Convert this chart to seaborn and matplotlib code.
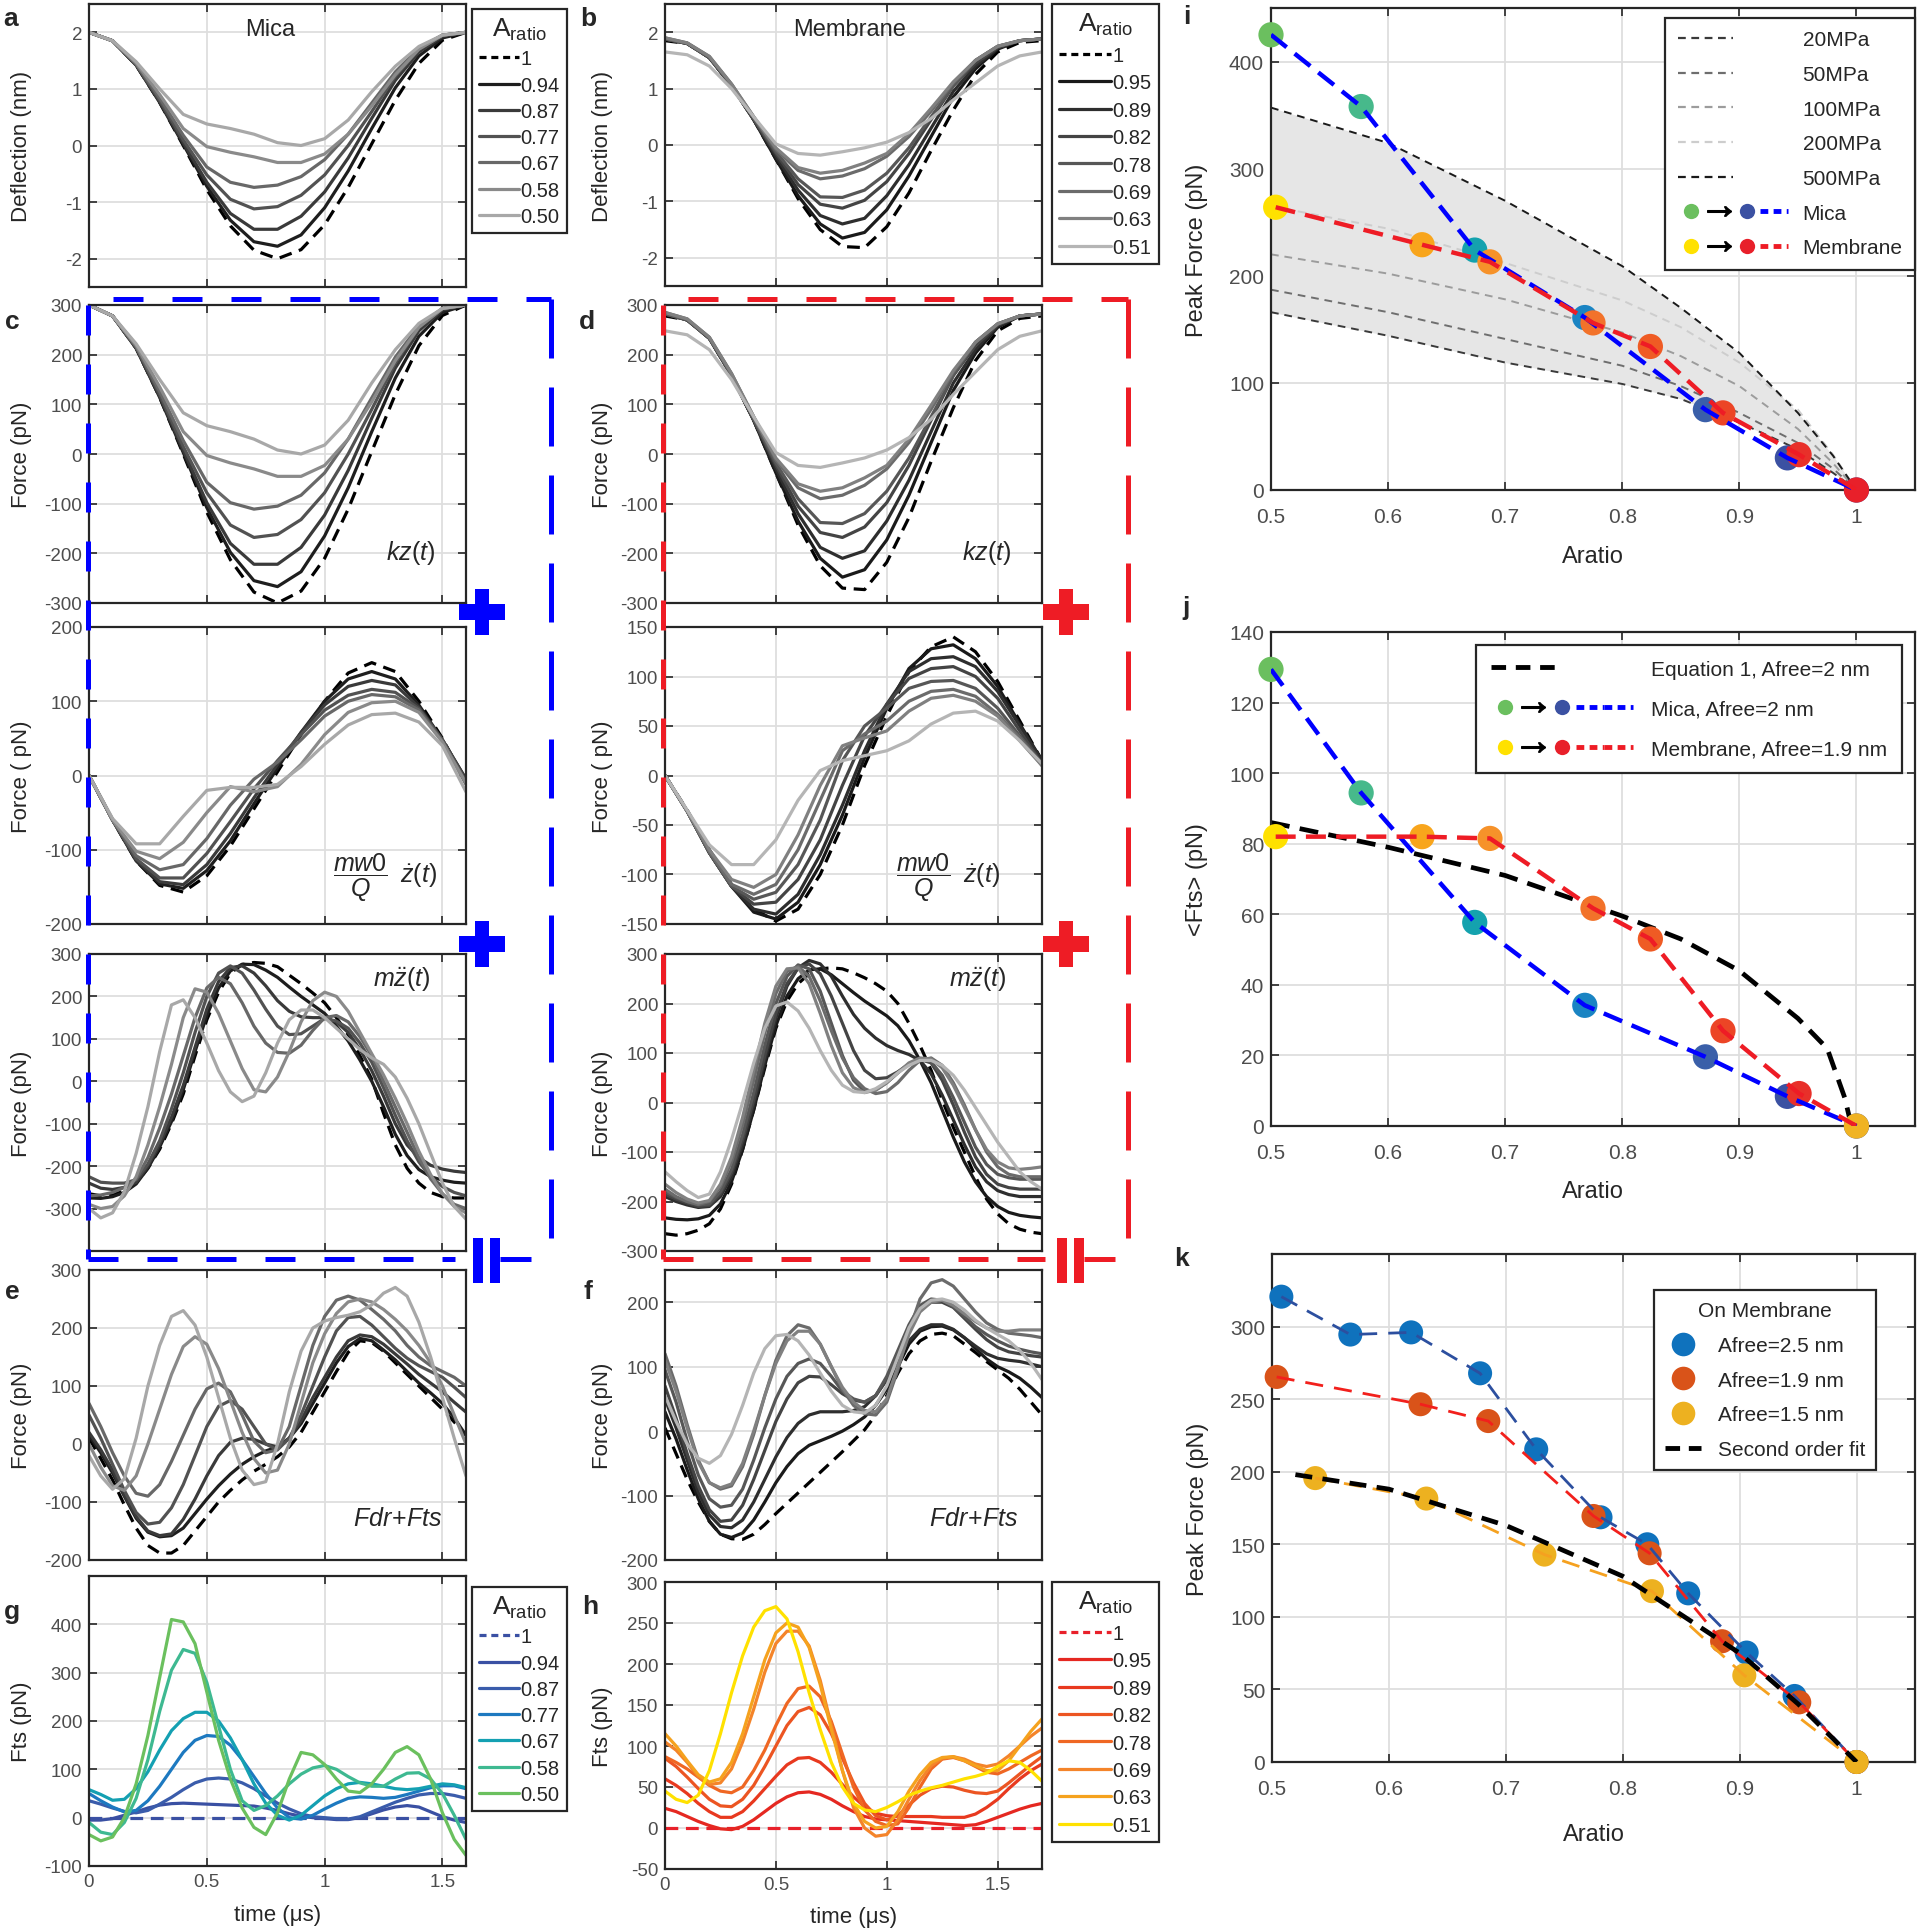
import numpy as np
import pandas as pd
import seaborn as sns
import matplotlib.pyplot as plt
from matplotlib.lines import Line2D
from matplotlib.patches import Rectangle
from matplotlib.legend_handler import HandlerTuple

# ---------------- data ----------------
t_mica = [0.0, 0.1, 0.2, 0.3, 0.4, 0.5, 0.6, 0.7, 0.8, 0.9, 1.0, 1.1, 1.2, 1.3, 1.4, 1.5, 1.6]
t_memb = [0.0, 0.1, 0.2, 0.3, 0.4, 0.5, 0.6, 0.7, 0.8, 0.9, 1.0, 1.1, 1.2, 1.3, 1.4, 1.5, 1.6, 1.7]
# finer time grid for the oscillating force traces
t_mica_f = [0.0, 0.05, 0.1, 0.15, 0.2, 0.25, 0.3, 0.35, 0.4, 0.45,
            0.5, 0.55, 0.6, 0.65, 0.7, 0.75, 0.8, 0.85, 0.9, 0.95,
            1.0, 1.05, 1.1, 1.15, 1.2, 1.25, 1.3, 1.35, 1.4, 1.45,
            1.5, 1.55, 1.6]
t_memb_f = t_mica_f + [1.65, 1.7]

lbl_mica = ['1', '0.94', '0.87', '0.77', '0.67', '0.58', '0.50']
lbl_memb = ['1', '0.95', '0.89', '0.82', '0.78', '0.69', '0.63', '0.51']

# a: deflection on mica (nm)
defl_mica = [
    [2.0, 1.85, 1.42, 0.76, 0.0, -0.78, -1.42, -1.85, -2.0, -1.84, -1.4, -0.74, 0.03, 0.8, 1.45, 1.86, 2.0],
    [2.0, 1.85, 1.42, 0.76, 0.02, -0.72, -1.32, -1.7, -1.78, -1.58, -1.1, -0.45, 0.3, 1.02, 1.58, 1.9, 2.0],
    [2.0, 1.85, 1.42, 0.77, 0.05, -0.65, -1.2, -1.48, -1.48, -1.25, -0.82, -0.22, 0.48, 1.15, 1.65, 1.93, 2.0],
    [2.0, 1.85, 1.43, 0.8, 0.1, -0.52, -0.95, -1.12, -1.08, -0.88, -0.52, 0.0, 0.6, 1.22, 1.7, 1.95, 2.0],
    [2.0, 1.85, 1.44, 0.84, 0.18, -0.38, -0.65, -0.74, -0.7, -0.55, -0.25, 0.2, 0.75, 1.3, 1.72, 1.95, 2.0],
    [2.0, 1.85, 1.46, 0.9, 0.3, -0.02, -0.12, -0.2, -0.3, -0.3, -0.15, 0.2, 0.7, 1.25, 1.7, 1.95, 2.0],
    [2.0, 1.85, 1.48, 1.0, 0.55, 0.38, 0.3, 0.2, 0.05, 0.0, 0.12, 0.45, 0.95, 1.4, 1.75, 1.95, 2.0],
]
# b: deflection on membrane (nm)
defl_memb = [
    [1.85, 1.8, 1.55, 1.05, 0.45, -0.25, -0.95, -1.5, -1.8, -1.82, -1.45, -0.85, -0.1, 0.62, 1.25, 1.65, 1.82, 1.85],
    [1.88, 1.8, 1.55, 1.05, 0.45, -0.25, -0.9, -1.4, -1.65, -1.55, -1.15, -0.55, 0.15, 0.85, 1.35, 1.7, 1.85, 1.88],
    [1.88, 1.8, 1.55, 1.05, 0.45, -0.2, -0.8, -1.25, -1.4, -1.3, -0.9, -0.35, 0.3, 0.95, 1.4, 1.72, 1.85, 1.88],
    [1.88, 1.8, 1.55, 1.05, 0.45, -0.15, -0.7, -1.05, -1.12, -0.98, -0.65, -0.15, 0.45, 1.05, 1.45, 1.73, 1.85, 1.88],
    [1.88, 1.8, 1.55, 1.07, 0.47, -0.12, -0.6, -0.92, -0.93, -0.8, -0.5, -0.05, 0.5, 1.05, 1.5, 1.75, 1.85, 1.88],
    [1.9, 1.81, 1.57, 1.08, 0.5, -0.08, -0.45, -0.6, -0.55, -0.42, -0.2, 0.15, 0.6, 1.1, 1.5, 1.75, 1.85, 1.88],
    [1.9, 1.81, 1.57, 1.08, 0.5, -0.05, -0.4, -0.5, -0.45, -0.32, -0.15, 0.2, 0.65, 1.12, 1.5, 1.75, 1.85, 1.88],
    [1.65, 1.6, 1.4, 1.0, 0.5, 0.02, -0.15, -0.18, -0.12, -0.05, 0.05, 0.22, 0.47, 0.8, 1.1, 1.4, 1.58, 1.65],
]
# c: kz(t) and mw0/Q z'(t) on mica (pN)
kz_mica = [
    [300, 278, 213, 114, 0, -117, -213, -278, -300, -276, -210, -111, 5, 120, 218, 279, 300],
    [300, 278, 213, 114, 3, -108, -198, -255, -267, -237, -165, -68, 45, 153, 237, 285, 300],
    [300, 278, 213, 116, 8, -98, -180, -222, -222, -188, -123, -33, 72, 173, 248, 290, 300],
    [300, 278, 215, 120, 15, -78, -143, -168, -162, -132, -78, 0, 90, 183, 255, 293, 300],
    [300, 278, 216, 126, 27, -57, -98, -111, -105, -83, -38, 30, 113, 195, 258, 293, 300],
    [300, 278, 219, 135, 45, -3, -18, -30, -45, -45, -23, 30, 105, 188, 255, 293, 300],
    [300, 278, 222, 150, 83, 57, 45, 30, 8, 0, 18, 68, 143, 210, 263, 293, 300],
]
damp_mica = [
    [0, -60, -115, -148, -157, -135, -95, -45, 5, 55, 100, 138, 152, 140, 100, 50, -10],
    [0, -60, -115, -146, -152, -128, -88, -38, 10, 58, 100, 130, 140, 130, 95, 48, -5],
    [0, -60, -114, -143, -147, -120, -78, -30, 15, 58, 95, 120, 128, 122, 92, 48, -5],
    [0, -60, -112, -138, -138, -105, -62, -18, 20, 55, 88, 108, 116, 112, 90, 48, -8],
    [0, -60, -108, -127, -120, -85, -40, -5, 18, 48, 80, 100, 109, 106, 88, 46, -12],
    [0, -60, -102, -112, -90, -50, -15, -22, -15, 15, 55, 85, 98, 100, 85, 45, -10],
    [0, -58, -92, -92, -55, -20, -16, -16, -12, 12, 42, 68, 82, 84, 72, 40, -22],
]
# c (third): m z''(t) on mica, 0.05 us steps
inert_mica = [
    [-265, -270, -268, -258, -240, -205, -160, -100, -30, 60, 145, 210, 255, 275, 280, 278, 270, 250, 230, 208,
     185, 150, 110, 60, 5, -75, -150, -205, -240, -262, -272, -275, -275],
    [-275, -276, -272, -262, -242, -205, -155, -95, -20, 70, 155, 220, 260, 276, 275, 262, 245, 222, 200, 180,
     160, 130, 95, 50, 0, -60, -125, -175, -208, -225, -233, -238, -240],
    [-240, -252, -255, -250, -238, -200, -148, -85, -10, 80, 170, 235, 268, 272, 255, 225, 190, 165, 152, 150,
     150, 140, 115, 75, 25, -35, -100, -150, -180, -198, -207, -212, -215],
    [-225, -238, -240, -240, -232, -195, -140, -65, 20, 115, 200, 255, 272, 255, 215, 170, 130, 110, 112, 130,
     148, 142, 125, 90, 45, -15, -80, -140, -190, -225, -248, -262, -270],
    [-270, -268, -262, -250, -230, -180, -110, -30, 60, 150, 220, 245, 230, 185, 130, 90, 68, 66, 85, 120,
     150, 155, 140, 105, 60, 0, -60, -120, -180, -230, -265, -290, -300],
    [-290, -300, -295, -270, -225, -150, -60, 40, 150, 218, 210, 160, 95, 30, -20, -25, 10, 70, 140, 190,
     210, 200, 165, 115, 65, 15, -40, -100, -165, -220, -265, -295, -310],
    [-300, -322, -310, -260, -170, -60, 70, 180, 192, 150, 90, 25, -25, -48, -35, 20, 90, 145, 168, 168,
     150, 125, 100, 75, 55, 40, 10, -40, -100, -170, -240, -295, -325],
]
# e: Fdr+Fts on mica
fsum_mica = [
    [10, -25, -62, -105, -145, -175, -188, -188, -175, -150, -125, -100, -80, -62, -47, -35, -22, -5, 20, 55,
     90, 125, 158, 178, 175, 160, 140, 120, 100, 80, 60, 38, 15],
    [15, -15, -50, -90, -128, -152, -160, -158, -145, -120, -95, -72, -52, -35, -22, -12, -5, 10, 35, 70,
     105, 140, 168, 182, 178, 162, 145, 125, 105, 88, 70, 45, 15],
    [20, -10, -45, -88, -125, -150, -158, -155, -130, -95, -55, -20, 3, 10, 8, 0, -5, 10, 40, 80,
     115, 150, 178, 188, 185, 172, 155, 138, 120, 105, 90, 72, 55],
    [50, 10, -35, -80, -118, -138, -135, -110, -70, -20, 30, 65, 75, 60, 30, 0, -10, 10, 50, 100,
     150, 195, 218, 220, 205, 185, 165, 148, 135, 125, 115, 98, 80],
    [70, 30, -15, -55, -85, -90, -70, -30, 15, 60, 95, 105, 90, 50, 5, -15, -10, 30, 100, 170,
     220, 248, 255, 248, 232, 215, 195, 170, 150, 135, 125, 115, 100],
    [0, -40, -72, -80, -55, 0, 60, 120, 168, 185, 172, 130, 75, 20, -25, -50, -45, 0, 70, 140,
     190, 225, 245, 250, 245, 232, 215, 195, 170, 140, 100, 50, 0],
    [-20, -55, -78, -60, 10, 100, 170, 220, 230, 205, 150, 80, 10, -45, -70, -65, 0, 90, 160, 200,
     212, 218, 222, 228, 240, 260, 270, 255, 210, 150, 80, 10, -55],
]
# g: Fts on mica
fts_mica = [
    [0.0] * 33,
    [-5, -5, -2, 5, 12, 20, 26, 29, 30, 29, 28, 27, 26, 25, 24, 20, 15, 8, 3, 0,
     -2, -4, -4, 0, 8, 16, 22, 25, 22, 12, 2, -5, -10],
    [35, 28, 20, 13, 10, 15, 28, 42, 58, 72, 80, 82, 80, 72, 60, 45, 30, 18, 8, 2,
     0, -2, -3, 2, 12, 22, 32, 40, 47, 50, 50, 46, 40],
    [50, 35, 22, 12, 15, 35, 65, 100, 135, 160, 170, 168, 150, 120, 85, 50, 20, 0, -3, 5,
     18, 30, 40, 43, 42, 40, 42, 48, 55, 62, 66, 66, 60],
    [58, 48, 36, 38, 60, 95, 140, 180, 205, 218, 218, 200, 165, 120, 70, 30, 5, -5, 5, 25,
     45, 60, 70, 73, 70, 65, 60, 58, 60, 65, 70, 68, 62],
    [-10, -30, -35, -10, 40, 120, 220, 305, 348, 340, 280, 190, 100, 35, 15, 25, 45, 70, 90, 103,
     108, 100, 85, 72, 65, 65, 80, 92, 93, 80, 50, 5, -45],
    [-35, -48, -40, 0, 70, 170, 290, 410, 405, 360, 260, 160, 80, 20, -20, -35, 10, 80, 135, 130,
     110, 80, 55, 52, 70, 100, 135, 147, 130, 80, 10, -45, -78],
]
# d: kz(t) and mw0/Q z'(t) on membrane
kz_memb = [
    [278, 270, 233, 158, 68, -38, -143, -225, -270, -273, -218, -128, -15, 93, 188, 248, 273, 278],
    [282, 270, 233, 158, 68, -38, -135, -210, -248, -233, -173, -83, 23, 128, 203, 255, 278, 282],
    [282, 270, 233, 158, 68, -30, -120, -188, -210, -195, -135, -53, 45, 143, 210, 258, 278, 282],
    [282, 270, 233, 158, 68, -23, -105, -158, -168, -147, -98, -23, 68, 158, 218, 260, 278, 282],
    [282, 270, 233, 160, 70, -18, -90, -138, -140, -120, -75, -8, 75, 158, 225, 262, 278, 282],
    [285, 272, 235, 162, 75, -12, -68, -90, -83, -63, -30, 23, 90, 165, 225, 262, 278, 282],
    [285, 272, 235, 162, 75, -8, -60, -75, -68, -48, -23, 30, 98, 168, 225, 262, 278, 282],
    [248, 240, 210, 150, 75, 3, -23, -27, -18, -8, 8, 33, 70, 120, 165, 210, 237, 248],
]
damp_memb = [
    [0, -35, -75, -110, -135, -147, -135, -100, -50, 10, 60, 105, 130, 140, 125, 95, 55, 15],
    [0, -36, -78, -112, -138, -145, -128, -90, -40, 18, 68, 108, 128, 132, 118, 90, 52, 15],
    [0, -36, -78, -112, -135, -140, -120, -80, -30, 25, 72, 105, 118, 120, 110, 85, 50, 15],
    [0, -36, -78, -112, -130, -128, -105, -65, -10, 40, 72, 98, 108, 110, 100, 78, 45, 12],
    [0, -36, -78, -112, -125, -118, -90, -45, 15, 50, 68, 88, 95, 96, 88, 68, 40, 12],
    [0, -36, -77, -110, -120, -110, -75, -25, 25, 42, 55, 75, 85, 87, 80, 62, 38, 10],
    [0, -36, -75, -105, -113, -100, -60, -10, 30, 38, 45, 65, 78, 81, 75, 60, 35, 10],
    [0, -35, -70, -90, -90, -65, -25, 5, 15, 20, 25, 35, 52, 63, 65, 55, 35, 12],
]
# d (third): m z''(t) on membrane, 0.05 us steps
inert_memb = [
    [-265, -268, -265, -258, -245, -215, -165, -95, -15, 70, 150, 205, 240, 260, 270, 272, 270, 262, 252, 240,
     225, 200, 160, 115, 65, 5, -50, -100, -150, -195, -225, -245, -256, -262, -265],
    [-233, -236, -237, -235, -228, -205, -160, -95, -15, 75, 155, 215, 250, 268, 270, 258, 240, 222, 205, 190,
     175, 155, 125, 85, 40, -15, -70, -120, -160, -190, -210, -222, -228, -231, -233],
    [-190, -200, -207, -212, -210, -190, -150, -85, -5, 85, 170, 235, 272, 287, 280, 255, 215, 178, 150, 130,
     115, 105, 97, 85, 58, 15, -35, -85, -130, -160, -178, -186, -190, -190, -190],
    [-185, -195, -203, -210, -208, -185, -142, -75, 5, 95, 180, 240, 272, 280, 260, 215, 160, 105, 65, 48,
     50, 62, 78, 87, 80, 45, -5, -60, -110, -145, -165, -172, -175, -175, -175],
    [-180, -192, -200, -207, -205, -180, -135, -65, 20, 115, 200, 255, 278, 270, 225, 160, 95, 45, 22, 25,
     40, 60, 78, 88, 82, 55, 10, -40, -90, -125, -145, -152, -155, -155, -155],
    [-175, -190, -200, -206, -200, -170, -120, -45, 45, 140, 220, 265, 275, 255, 205, 145, 90, 50, 28, 18,
     22, 40, 65, 85, 90, 75, 40, -5, -55, -100, -130, -145, -150, -150, -150],
    [-165, -182, -195, -203, -198, -165, -110, -30, 65, 160, 235, 270, 272, 240, 180, 115, 60, 30, 20, 25,
     40, 60, 80, 90, 88, 70, 35, -10, -55, -95, -120, -132, -135, -133, -130],
    [-140, -160, -178, -192, -185, -140, -75, 0, 80, 150, 195, 203, 185, 150, 105, 65, 35, 22, 20, 28,
     42, 60, 75, 85, 85, 75, 55, 25, -10, -45, -80, -110, -140, -160, -175],
]
# f: Fdr+Fts on membrane
fsum_memb = [
    [5, -35, -75, -110, -140, -160, -167, -168, -160, -145, -128, -112, -96, -80, -64, -48, -32, -15, 2, 25,
     55, 90, 120, 140, 150, 152, 148, 135, 122, 108, 95, 82, 65, 45, 25],
    [30, -12, -60, -105, -140, -160, -165, -158, -138, -110, -80, -55, -35, -22, -15, -8, 0, 10, 22, 40,
     65, 100, 135, 155, 162, 163, 157, 145, 128, 112, 100, 92, 82, 68, 52],
    [50, 5, -45, -95, -130, -148, -150, -138, -110, -75, -40, -10, 12, 25, 30, 30, 30, 32, 38, 55,
     80, 110, 140, 158, 165, 165, 158, 145, 132, 120, 113, 110, 108, 104, 100],
    [70, 20, -35, -85, -122, -140, -138, -115, -75, -30, 15, 50, 75, 85, 84, 72, 58, 48, 45, 55,
     80, 120, 160, 188, 200, 200, 192, 175, 158, 142, 130, 123, 120, 117, 115],
    [95, 45, -15, -68, -105, -118, -115, -90, -45, 5, 50, 85, 105, 112, 105, 85, 62, 50, 45, 55,
     85, 125, 165, 195, 205, 203, 193, 178, 162, 150, 140, 132, 127, 123, 120],
    [120, 70, 10, -45, -80, -90, -85, -55, -5, 55, 110, 148, 165, 160, 135, 100, 65, 40, 27, 25,
     45, 95, 155, 205, 230, 235, 225, 205, 185, 168, 158, 152, 150, 148, 145],
    [110, 62, 5, -48, -80, -88, -82, -50, 0, 55, 105, 140, 155, 155, 135, 100, 68, 45, 32, 30,
     50, 100, 150, 185, 200, 203, 195, 182, 170, 160, 155, 155, 157, 157, 157],
    [55, 15, -20, -42, -50, -38, -5, 40, 90, 128, 148, 150, 140, 118, 90, 62, 40, 30, 28, 40,
     70, 115, 160, 190, 203, 205, 200, 188, 172, 160, 150, 140, 125, 105, 80],
]
# h: Fts on membrane
fts_memb = [
    [0.0] * 35,
    [24, 20, 14, 8, 3, -1, -2, 2, 10, 20, 30, 38, 43, 44, 41, 35, 27, 20, 14, 11,
     10, 9, 8, 7, 6, 5, 4, 3, 4, 8, 13, 18, 23, 27, 30],
    [60, 52, 42, 30, 20, 13, 13, 20, 33, 48, 63, 77, 85, 86, 80, 68, 53, 38, 26, 18,
     15, 14, 14, 14, 14, 13, 13, 13, 17, 25, 35, 48, 60, 70, 78],
    [85, 75, 62, 48, 35, 27, 26, 35, 52, 75, 100, 125, 142, 147, 138, 115, 85, 55, 30, 15,
     10, 15, 28, 40, 48, 51, 50, 46, 43, 42, 45, 55, 66, 77, 87],
    [87, 80, 72, 62, 52, 45, 43, 50, 70, 95, 125, 152, 170, 173, 160, 130, 90, 50, 22, 8,
     3, 5, 25, 50, 72, 84, 86, 82, 75, 68, 66, 72, 80, 88, 95],
    [105, 95, 80, 63, 53, 55, 72, 105, 145, 190, 225, 240, 240, 222, 180, 125, 70, 25, 0, -10,
     -8, 10, 35, 58, 76, 85, 87, 84, 78, 75, 78, 88, 100, 112, 122],
    [115, 100, 82, 65, 56, 60, 80, 115, 160, 205, 238, 250, 245, 220, 175, 120, 70, 30, 8, 0,
     2, 20, 45, 65, 80, 86, 87, 82, 76, 70, 70, 82, 100, 118, 133],
    [45, 35, 31, 40, 70, 115, 165, 210, 245, 265, 270, 255, 215, 165, 120, 80, 50, 30, 22, 20,
     25, 32, 40, 45, 49, 52, 56, 60, 63, 67, 75, 82, 80, 70, 57],
]

# i: peak force vs Aratio
mica_x = [0.50, 0.577, 0.674, 0.768, 0.871, 0.941, 1.0]
mica_peak = [425, 358, 224, 161, 75, 30, 0]
memb_x = [0.504, 0.629, 0.687, 0.775, 0.824, 0.886, 0.951, 1.0]
memb_peak = [264, 229, 213, 156, 134, 72, 33, 0]
mpa_x = [0.5, 0.6, 0.7, 0.8, 0.85, 0.9, 0.95, 0.98, 1.0]
mpa_names = ['20MPa', '50MPa', '100MPa', '200MPa', '500MPa']
mpa_curves = [
    [166, 144, 119, 99, 85, 63, 38, 16, 0],
    [187, 166, 141, 116, 97, 72, 44, 20, 0],
    [220, 202, 178, 147, 125, 97, 57, 25, 0],
    [265, 244, 212, 177, 152, 119, 75, 33, 0],
    [357, 324, 270, 209, 170, 128, 72, 32, 0],
]
# j: mean Fts vs Aratio
mica_fts = [129.4, 94.4, 57.7, 34.2, 19.6, 8.4, 0]
memb_fts = [82, 82, 81.5, 61.7, 53, 27, 9.2, 0]
eq1_x = [0.5, 0.6, 0.7, 0.8, 0.85, 0.9, 0.95, 0.975, 0.99, 0.995]
eq1_y = [86, 79, 71, 59.5, 53, 44, 30.5, 22, 8, 1]
# k: peak force on membrane for three free amplitudes
k25_x = [0.508, 0.567, 0.619, 0.678, 0.726, 0.781, 0.821, 0.856, 0.906, 0.947, 1.0]
k25_y = [320.6, 294.5, 296, 267.8, 215.4, 168.6, 150, 116.2, 75.4, 45.5, 0]
k19_x = [0.504, 0.627, 0.685, 0.775, 0.823, 0.885, 0.951, 1.0]
k19_y = [265.3, 246.5, 234.9, 169.5, 143.8, 83.2, 41.1, 0]
k15_x = [0.537, 0.632, 0.733, 0.825, 0.904, 1.0]
k15_y = [195.6, 181.5, 142.9, 117.7, 59.7, 0]
fit_x = [0.52, 0.6, 0.7, 0.8, 0.9, 0.95, 1.0]
fit_y = [198, 188, 163, 128, 75, 40, 0]

# ---------------- colours ----------------
gray_mica = ['#000000', '#1e1e1e', '#3a3a3a', '#525252', '#686868', '#8a8a8a', '#a8a8a8']
gray_memb = ['#000000', '#1a1a1a', '#2e2e2e', '#444444', '#575757', '#6b6b6b', '#808080', '#b5b5b5']
fts_mica_col = ['#3a50a3', '#3a50a3', '#3a5cab', '#1d79c0', '#14a0b2', '#3eb991', '#6bc05e']
fts_memb_col = ['#e8202a', '#e52821', '#e8391f', '#ec5522', '#ef6723', '#f4842a', '#f5a21e', '#ffe100']
mica_pt_col = ['#6bbf5f', '#47b98b', '#14a2ae', '#1a84c3', '#3a5fa9', '#3b51a2', '#3b51a2']
memb_pt_col = ['#ffe100', '#f8a51c', '#f6922a', '#f2722a', '#ef5b24', '#ec4526', '#e8302a', '#e8202a']
mpa_col = ['#3a3a3a', '#6e6e6e', '#9c9c9c', '#cdcdcd', '#1a1a1a']

sns.set_style('ticks')
plt.rcParams['font.family'] = ['Liberation Sans', 'DejaVu Sans']
plt.rcParams['mathtext.fontset'] = 'custom'
plt.rcParams['mathtext.rm'] = 'Liberation Sans'
plt.rcParams['mathtext.it'] = 'Liberation Sans:italic'
plt.rcParams['axes.unicode_minus'] = False

W, H = 1920, 1933
fig = plt.figure(figsize=(19.2, 19.33), dpi=100)


def fx(x):
    return x / W


def fy(y):
    return 1 - y / H


def panel(box, xlim, ylim, yticks, xticks, xlabels=None, fs=13.5, xpad=5):
    x0, x1, y0, y1 = box
    ax = fig.add_axes([x0 / W, 1 - y1 / H, (x1 - x0) / W, (y1 - y0) / H])
    ax.set_xlim(xlim)
    ax.set_ylim(ylim)
    ax.set_xticks(xticks)
    ax.set_yticks(yticks)
    ax.set_yticklabels([('%g' % v) for v in yticks])
    if xlabels is None:
        ax.set_xticklabels([])
    else:
        ax.set_xticklabels(xlabels)
    ax.grid(True, color='#dedede', lw=1.3)
    ax.set_axisbelow(True)
    ax.tick_params(direction='in', top=True, right=True, length=6, width=1.2,
                   color='#262626', labelcolor='#4d4d4d', labelsize=fs, pad=5)
    ax.tick_params(axis='x', pad=xpad)
    for s in ax.spines.values():
        s.set_color('#262626')
        s.set_linewidth(1.6)
    return ax


def curves(ax, t, series, colors):
    for k, (vals, c) in enumerate(zip(series, colors)):
        sns.lineplot(x=t, y=vals, ax=ax, color=c, lw=2.3, estimator=None, sort=False)
        if k == 0:
            ax.lines[-1].set_dashes([4.0, 2.4])


def ylab(ax, text, xc, fs=16):
    ax.set_ylabel(text, fontsize=fs)
    ax.yaxis.set_label_coords(xc, 0.5)


def ratio_legend(ax, labels, colors, x0, y0, hl, sp):
    hs = []
    for k, c in enumerate(colors):
        h = Line2D([], [], color=c, lw=2.3)
        if k == 0:
            h.set_dashes([2.2, 1.5])
        hs.append(h)
    leg = ax.legend(hs, labels, loc='upper left', bbox_to_anchor=(fx(x0), fy(y0)),
                    bbox_transform=fig.transFigure, title=r'A$_{\mathregular{ratio}}$',
                    fontsize=14.5, title_fontsize=19, frameon=True, fancybox=False,
                    edgecolor='#262626', framealpha=1, handlelength=hl, handletextpad=0.05,
                    borderpad=0.35, labelspacing=sp, borderaxespad=0)
    leg.get_frame().set_linewidth(1.6)


tm = [0, 0.5, 1, 1.5]
L = (89, 466)
R = (665, 1042)

# ---- mica column ----
ax_a = panel((L[0], L[1], 5, 288), (0, 1.6), (-2.5, 2.5), [-2, -1, 0, 1, 2], tm)
curves(ax_a, t_mica, defl_mica, gray_mica)
ylab(ax_a, 'Deflection (nm)', -0.15)
ax_a.text(0.48, 0.91, 'Mica', transform=ax_a.transAxes, ha='center', va='center', fontsize=17)
ratio_legend(ax_a, lbl_mica, gray_mica, 472, 10, 2.0, 0.36)

ax_c1 = panel((L[0], L[1], 306, 604), (0, 1.6), (-300, 300), [-300, -200, -100, 0, 100, 200, 300], tm)
curves(ax_c1, t_mica, kz_mica, gray_mica)
ylab(ax_c1, 'Force (pN)', -0.15)
ax_c1.text(0.854, 0.17, r'$kz(t)$', transform=ax_c1.transAxes, ha='center', va='center', fontsize=18)

ax_c2 = panel((L[0], L[1], 628, 925), (0, 1.6), (-200, 200), [-200, -100, 0, 100, 200], tm)
curves(ax_c2, t_mica, damp_mica, gray_mica)
ylab(ax_c2, 'Force ( pN)', -0.15)
ax_c2.text(0.785, 0.16, r'$\dfrac{mw0}{Q}\;\;\dot{z}(t)$', transform=ax_c2.transAxes,
           ha='center', va='center', fontsize=18)

ax_c3 = panel((L[0], L[1], 955, 1252), (0, 1.6), (-400, 300), [-300, -200, -100, 0, 100, 200, 300], tm)
curves(ax_c3, t_mica_f, inert_mica, gray_mica)
ylab(ax_c3, 'Force (pN)', -0.15)
ax_c3.text(0.83, 0.915, r'$m\ddot{z}(t)$', transform=ax_c3.transAxes, ha='center', va='center', fontsize=18)

ax_e = panel((L[0], L[1], 1271, 1561), (0, 1.6), (-200, 300), [-200, -100, 0, 100, 200, 300], tm)
curves(ax_e, t_mica_f, fsum_mica, gray_mica)
ylab(ax_e, 'Force (pN)', -0.15)
ax_e.text(0.82, 0.145, r'$Fdr\!+\!Fts$', transform=ax_e.transAxes, ha='center', va='center', fontsize=18)

ax_g = panel((L[0], L[1], 1577, 1867), (0, 1.6), (-100, 500), [-100, 0, 100, 200, 300, 400], tm,
             xlabels=['0', '0.5', '1', '1.5'])
curves(ax_g, t_mica_f, fts_mica, fts_mica_col)
ylab(ax_g, 'Fts (pN)', -0.15)
ax_g.set_xlabel('time (\u03bcs)', fontsize=16)
ax_g.xaxis.set_label_coords(0.5, -0.13)
ratio_legend(ax_g, lbl_mica, fts_mica_col, 472, 1588, 2.0, 0.36)

# ---- membrane column ----
ax_b = panel((R[0], R[1], 5, 287), (0, 1.7), (-2.5, 2.5), [-2, -1, 0, 1, 2], tm)
curves(ax_b, t_memb, defl_memb, gray_memb)
ylab(ax_b, 'Deflection (nm)', -0.138)
ax_b.text(0.49, 0.91, 'Membrane', transform=ax_b.transAxes, ha='center', va='center', fontsize=17)
ratio_legend(ax_b, lbl_memb, gray_memb, 1052, 5, 2.6, 0.42)

ax_d1 = panel((R[0], R[1], 306, 604), (0, 1.7), (-300, 300), [-300, -200, -100, 0, 100, 200, 300], tm)
curves(ax_d1, t_memb, kz_memb, gray_memb)
ylab(ax_d1, 'Force (pN)', -0.138)
ax_d1.text(0.854, 0.17, r'$kz(t)$', transform=ax_d1.transAxes, ha='center', va='center', fontsize=18)

ax_d2 = panel((R[0], R[1], 628, 925), (0, 1.7), (-150, 150), [-150, -100, -50, 0, 50, 100, 150], tm)
curves(ax_d2, t_memb, damp_memb, gray_memb)
ylab(ax_d2, 'Force ( pN)', -0.138)
ax_d2.text(0.75, 0.16, r'$\dfrac{mw0}{Q}\;\;\dot{z}(t)$', transform=ax_d2.transAxes,
           ha='center', va='center', fontsize=18)

ax_d3 = panel((R[0], R[1], 955, 1252), (0, 1.7), (-300, 300), [-300, -200, -100, 0, 100, 200, 300], tm)
curves(ax_d3, t_memb_f, inert_memb, gray_memb)
ylab(ax_d3, 'Force (pN)', -0.138)
ax_d3.text(0.83, 0.915, r'$m\ddot{z}(t)$', transform=ax_d3.transAxes, ha='center', va='center', fontsize=18)

ax_f = panel((R[0], R[1], 1271, 1561), (0, 1.7), (-200, 250), [-200, -100, 0, 100, 200], tm)
curves(ax_f, t_memb_f, fsum_memb, gray_memb)
ylab(ax_f, 'Force (pN)', -0.138)
ax_f.text(0.82, 0.145, r'$Fdr\!+\!Fts$', transform=ax_f.transAxes, ha='center', va='center', fontsize=18)

ax_h = panel((R[0], R[1], 1583, 1870), (0, 1.7), (-50, 300), [-50, 0, 50, 100, 150, 200, 250, 300], tm,
             xlabels=['0', '0.5', '1', '1.5'])
curves(ax_h, t_memb_f, fts_memb, fts_memb_col)
ylab(ax_h, 'Fts (pN)', -0.138)
ax_h.set_xlabel('time (\u03bcs)', fontsize=16)
ax_h.xaxis.set_label_coords(0.5, -0.13)
ratio_legend(ax_h, lbl_memb, fts_memb_col, 1052, 1583, 2.6, 0.42)

# ---- right column ----
ar_ticks = [0.5, 0.6, 0.7, 0.8, 0.9, 1.0]
ar_lbls = ['0.5', '0.6', '0.7', '0.8', '0.9', '1']


def pts(ax, xs, ys, cols, s=330):
    keys = ['p%d' % k for k in range(len(xs))]
    sns.scatterplot(x=xs, y=ys, hue=keys, palette=dict(zip(keys, cols)), hue_order=keys,
                    s=s, linewidth=0, legend=False, ax=ax, zorder=3, clip_on=False)


def dline(ax, xs, ys, c, lw, dashes, z=4):
    sns.lineplot(x=xs, y=ys, ax=ax, color=c, lw=lw, estimator=None, sort=False, zorder=z)
    ax.lines[-1].set_dashes(dashes)


def dot(c, ms=11):
    return Line2D([], [], ls='none', marker='o', color=c, mec='none', ms=ms)


def arrow():
    return Line2D([], [], ls='none', marker=r'$\rightarrow$', color='k', ms=17)


blank = Line2D([], [], ls='none')

ax_i = panel((1271, 1915, 9, 491), (0.5, 1.05), (0, 450), [0, 100, 200, 300, 400], ar_ticks, ar_lbls,
             fs=15, xpad=12)
ax_i.fill_between(mpa_x, mpa_curves[0], mpa_curves[4], color='#e6e6e6', lw=0, zorder=1)
for vals, c in zip(mpa_curves, mpa_col):
    dline(ax_i, mpa_x, vals, c, 1.4, [4, 3], z=2)
pts(ax_i, mica_x, mica_peak, mica_pt_col)
dline(ax_i, mica_x, mica_peak, '#0000ff', 3.2, [4.5, 2.3])
pts(ax_i, memb_x, memb_peak, memb_pt_col)
dline(ax_i, memb_x, memb_peak, '#ee1c25', 3.2, [4.5, 2.3])
ylab(ax_i, 'Peak Force (pN)', -0.098, fs=17)
ax_i.set_xlabel('Aratio', fontsize=17)
ax_i.xaxis.set_label_coords(0.5, -0.115)
hi = [(Line2D([], [], color=c, lw=1.6, dashes=(3.5, 2.5)), blank) for c in mpa_col]
hi.append((dot(mica_pt_col[0]), arrow(), dot(mica_pt_col[-1]), Line2D([], [], color='#0000ff', lw=3.5, dashes=(1.6, 1.1))))
hi.append((dot(memb_pt_col[0]), arrow(), dot(memb_pt_col[-1]), Line2D([], [], color='#ee1c25', lw=3.5, dashes=(1.6, 1.1))))
leg = ax_i.legend(hi, mpa_names + ['Mica', 'Membrane'], handler_map={tuple: HandlerTuple(ndivide=None, pad=0)},
                  loc='upper right', bbox_to_anchor=(fx(1915), fy(19)), bbox_transform=fig.transFigure,
                  fontsize=15, handlelength=5.3, handletextpad=0.7, labelspacing=0.75, borderpad=0.6,
                  frameon=True, fancybox=False, edgecolor='#262626', framealpha=1, borderaxespad=0)
leg.get_frame().set_linewidth(1.6)

ax_j = panel((1271, 1915, 633, 1127), (0.5, 1.05), (0, 140), [0, 20, 40, 60, 80, 100, 120, 140], ar_ticks, ar_lbls,
             fs=15, xpad=12)
pts(ax_j, mica_x, mica_fts, mica_pt_col)
dline(ax_j, mica_x, mica_fts, '#0000ff', 3.2, [4.5, 2.3])
pts(ax_j, memb_x, memb_fts, memb_pt_col[:-1] + ['#f0b323'])
dline(ax_j, memb_x, memb_fts, '#ee1c25', 3.2, [4.5, 2.3])
dline(ax_j, eq1_x, eq1_y, '#000000', 3.4, [4, 2.2], z=2)
ylab(ax_j, '<Fts> (pN)', -0.098, fs=17)
ax_j.set_xlabel('Aratio', fontsize=17)
ax_j.xaxis.set_label_coords(0.5, -0.11)
dl_b = Line2D([], [], color='#0000ff', lw=3.5, dashes=(1.6, 1.1))
dl_r = Line2D([], [], color='#ee1c25', lw=3.5, dashes=(1.6, 1.1))
hj = [(Line2D([], [], color='k', lw=3.5, dashes=(3.0, 2.0)), blank),
      (dot(mica_pt_col[0]), arrow(), dot(mica_pt_col[-1]), dl_b, dl_b),
      (dot(memb_pt_col[0]), arrow(), dot(memb_pt_col[-1]), dl_r, dl_r)]
leg = ax_j.legend(hj, ['Equation 1, Afree=2 nm', 'Mica, Afree=2 nm', 'Membrane, Afree=1.9 nm'],
                  handler_map={tuple: HandlerTuple(ndivide=None, pad=0)},
                  loc='upper right', bbox_to_anchor=(fx(1902), fy(646)), bbox_transform=fig.transFigure,
                  fontsize=15, handlelength=6.8, handletextpad=0.9, labelspacing=1.0, borderpad=0.7,
                  frameon=True, fancybox=False, edgecolor='#262626', framealpha=1, borderaxespad=0)
leg.get_frame().set_linewidth(1.6)

ax_k = panel((1272, 1915, 1255, 1763), (0.5, 1.05), (0, 350), [0, 50, 100, 150, 200, 250, 300], ar_ticks, ar_lbls,
             fs=15, xpad=12)
pts(ax_k, k25_x, k25_y, ['#0f72bd'] * len(k25_x), s=300)
pts(ax_k, k19_x, k19_y, ['#d95319'] * len(k19_x), s=300)
pts(ax_k, k15_x, k15_y, ['#edb120'] * len(k15_x), s=300)
dline(ax_k, k25_x, k25_y, '#2c4f9f', 2.0, [6.5, 4])
dline(ax_k, k19_x, k19_y, '#f2201c', 2.0, [6.5, 4])
dline(ax_k, k15_x, k15_y, '#f5a11f', 2.0, [6.5, 4])
dline(ax_k, fit_x, fit_y, '#000000', 3.4, [3.6, 2.2])
ylab(ax_k, 'Peak Force (pN)', -0.098, fs=17)
ax_k.set_xlabel('Aratio', fontsize=17)
ax_k.xaxis.set_label_coords(0.5, -0.12)
hk = [dot('#0f72bd', 17), dot('#d95319', 17), dot('#edb120', 17),
      Line2D([], [], color='k', lw=3.5, dashes=(3.0, 1.8))]
leg = ax_k.legend(hk, ['Afree=2.5 nm', 'Afree=1.9 nm', 'Afree=1.5 nm', 'Second order fit'],
                  title='On Membrane', title_fontsize=15,
                  loc='upper left', bbox_to_anchor=(fx(1654), fy(1291)), bbox_transform=fig.transFigure,
                  fontsize=15, handlelength=1.7, handletextpad=0.8, labelspacing=0.75, borderpad=0.55,
                  frameon=True, fancybox=False, edgecolor='#262626', framealpha=1, borderaxespad=0)
leg.get_frame().set_linewidth(1.6)

# ---------------- the "+ + =" decorations ----------------


def fline(xs, ys, c, lw, dashes=None):
    ln = Line2D([fx(x) for x in xs], [fy(y) for y in ys], transform=fig.transFigure,
                color=c, lw=lw, solid_capstyle='butt', dash_capstyle='butt')
    if dashes:
        ln.set_dashes(dashes)
    fig.add_artist(ln)


def frect(x0, y0, x1, y1, c):
    fig.add_artist(Rectangle((fx(x0), fy(y1)), (x1 - x0) / W, (y1 - y0) / H,
                             transform=fig.transFigure, color=c, lw=0))


def plus(cx, cy, c):
    frect(cx - 23, cy - 8, cx + 23, cy + 8, c)
    frect(cx - 7, cy - 23, cx + 7, cy + 23, c)


def cap(x0, c):
    frect(x0, 1239, x0 + 10, 1284, c)
    frect(x0 + 17, 1239, x0 + 27, 1284, c)
    fline([x0 + 27, x0 + 58], [1260, 1260], c, 3.6)


for col, lx, rx, bx, capx, px in [('#0000ff', 88, 551, 455, 473, 482),
                                   ('#ee1c25', 663, 1128, 1045, 1057, 1066)]:
    fline([lx + 25, rx], [300, 300], col, 3.6, [6, 5.8])
    fline([rx, rx], [300, 1250], col, 3.6, [11.8, 5.8])
    fline([lx, lx], [306, 1260], col, 3.6, [6, 5.8])
    fline([lx, bx], [1260, 1260], col, 3.6, [6, 5.8])
    plus(px, 613, col)
    plus(px, 945, col)
    cap(capx, col)

# panel letters
for s, x, y in [('a', 11, 19), ('b', 588, 19), ('c', 12, 322), ('d', 587, 322),
                ('e', 12, 1292), ('f', 588, 1292), ('g', 12, 1612), ('h', 590, 1607),
                ('i', 1187, 17), ('j', 1186, 608), ('k', 1182, 1259)]:
    fig.text(fx(x), fy(y), s, fontsize=19, fontweight='bold', ha='center', va='center')

fig.savefig('out.png', dpi=100)
